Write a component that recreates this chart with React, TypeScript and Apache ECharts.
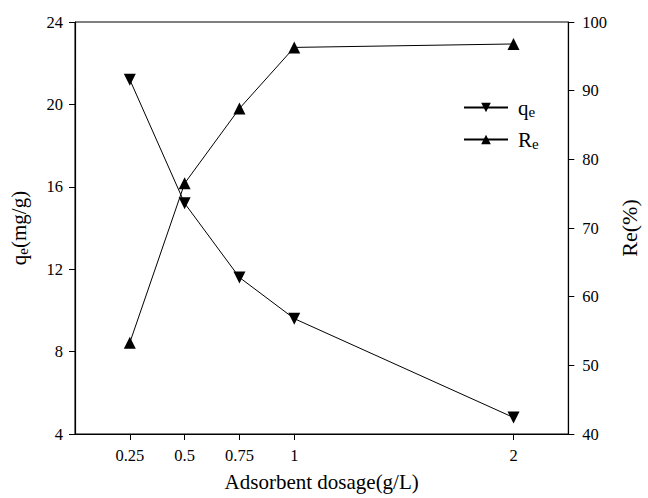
import React, { useEffect, useRef } from "react";
import * as echarts from "echarts";

const dosage = [0.25, 0.5, 0.75, 1, 2];
const qeValues = [21.2, 15.2, 11.6, 9.6, 4.8];
const reValues = [53.3, 76.5, 87.4, 96.3, 96.8];
const xTicks = [0.25, 0.5, 0.75, 1, 2];

const FONT = "Liberation Serif";

export default function App() {
  const ref = useRef<HTMLDivElement>(null);
  useEffect(() => {
    if (!ref.current) return;
    const chart = echarts.init(ref.current, undefined, { renderer: "svg" });
    const sub = { fontSize: 15, fontFamily: FONT, color: "#000", verticalAlign: "bottom", padding: [8, 0, 0, 0] };
    chart.setOption({
      animation: false,
      backgroundColor: "#fff",
      textStyle: { fontFamily: FONT, color: "#000" },
      grid: { left: 75, right: 70, top: 22, bottom: 64, show: true, borderColor: "#000", borderWidth: 1 },
      legend: {
        orient: "vertical",
        left: 458,
        top: 92,
        itemWidth: 44,
        itemHeight: 12,
        itemGap: 10,
        textStyle: {
          fontFamily: FONT,
          fontSize: 21,
          color: "#000",
          padding: [0, 0, 0, 5],
          rich: {
            b: { fontFamily: FONT, fontSize: 21, color: "#000" },
            s: { fontFamily: FONT, fontSize: 15, color: "#000", verticalAlign: "bottom", padding: [8, 0, 0, 0] },
          },
        },
        formatter: (name: string) => (name === "qe" ? "{b|q}{s|e}" : "{b|R}{s|e}"),
        data: ["qe", "Re"],
      },
      xAxis: {
        type: "value",
        min: 0,
        max: 2.25,
        name: "Adsorbent dosage(g/L)",
        nameLocation: "middle",
        nameGap: 37,
        nameTextStyle: { fontFamily: FONT, fontSize: 21, color: "#000" },
        splitLine: { show: false },
        axisLine: { lineStyle: { color: "#000", width: 1.2 } },
        axisTick: { show: true, customValues: xTicks, length: 6, lineStyle: { color: "#000" } },
        axisLabel: { customValues: xTicks, fontFamily: FONT, fontSize: 16.5, color: "#000", margin: 13 },
      },
      yAxis: [
        {
          type: "value",
          min: 4,
          max: 24,
          interval: 4,
          position: "left",
          name: "q{s|e}(mg/g)",
          nameLocation: "middle",
          nameGap: 45,
          nameRotate: 90,
          nameTextStyle: {
            fontFamily: FONT,
            fontSize: 21,
            color: "#000",
            rich: { s: sub },
          },
          splitLine: { show: false },
          axisLine: { show: true, lineStyle: { color: "#000", width: 1.2 } },
          axisTick: { show: true, length: 6, lineStyle: { color: "#000" } },
          axisLabel: { fontFamily: FONT, fontSize: 16.5, color: "#000", margin: 12 },
        },
        {
          type: "value",
          min: 40,
          max: 100,
          interval: 10,
          position: "right",
          name: "Re(%)",
          nameLocation: "middle",
          nameGap: 48,
          nameRotate: 90,
          nameTextStyle: { fontFamily: FONT, fontSize: 22, color: "#000" },
          splitLine: { show: false },
          axisLine: { show: true, lineStyle: { color: "#000", width: 1.2 } },
          axisTick: { show: true, length: 6, lineStyle: { color: "#000" } },
          axisLabel: { fontFamily: FONT, fontSize: 16.5, color: "#000", margin: 14 },
        },
      ],
      series: [
        {
          name: "qe",
          type: "line",
          yAxisIndex: 0,
          data: dosage.map((d, i) => [d, qeValues[i]]),
          symbol: "triangle",
          symbolRotate: 180,
          symbolSize: 12,
          showAllSymbol: true,
          lineStyle: { color: "#000", width: 1 },
          itemStyle: { color: "#000" },
        },
        {
          name: "Re",
          type: "line",
          yAxisIndex: 1,
          data: dosage.map((d, i) => [d, reValues[i]]),
          symbol: "triangle",
          symbolSize: 12,
          showAllSymbol: true,
          lineStyle: { color: "#000", width: 1 },
          itemStyle: { color: "#000" },
        },
      ],
    });
    return () => chart.dispose();
  }, []);
  return <div ref={ref} style={{ position: "absolute", left: 0, top: 0, width: 648, height: 498 }} />;
}
